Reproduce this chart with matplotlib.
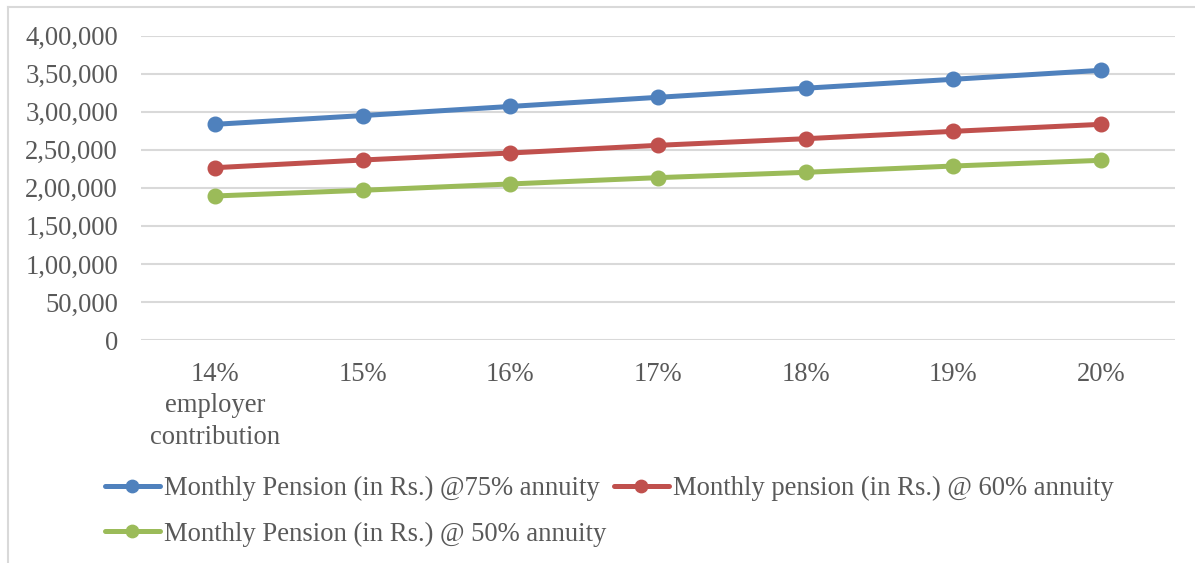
import matplotlib
matplotlib.use("Agg")
import matplotlib.pyplot as plt
from matplotlib.lines import Line2D

# data
categories = ["14%\nemployer\ncontribution", "15%", "16%", "17%", "18%", "19%", "20%"]
pension_75 = [283500, 295000, 307000, 319000, 331000, 342700, 354500]
pension_60 = [226500, 236600, 245800, 255900, 264600, 274300, 283500]
pension_50 = [189300, 196800, 205100, 213400, 220400, 228700, 236200]
series_names = ["Monthly Pension (in Rs.) @75% annuity",
                "Monthly pension (in Rs.) @ 60% annuity",
                "Monthly Pension (in Rs.) @ 50% annuity"]
y_ticks = [0, 50000, 100000, 150000, 200000, 250000, 300000, 350000, 400000]
y_tick_labels = ["0", "50,000", "1,00,000", "1,50,000", "2,00,000",
                 "2,50,000", "3,00,000", "3,50,000", "4,00,000"]

colors = ["#4F81BD", "#C0504D", "#9BBB59"]
text_color = "#595959"
grid_color = "#D9D9D9"
fs = 19.2

plt.rcParams['font.family'] = ['Liberation Serif', 'DejaVu Serif']

W, H = 1195, 563
fig = plt.figure(figsize=(W / 100, H / 100), dpi=100)
ax = fig.add_axes([141 / W, (H - 340) / H, (1175 - 141) / W, (340 - 35.7) / H])

x = list(range(len(categories)))
handles = []
for vals, name, c in zip([pension_75, pension_60, pension_50], series_names, colors):
    h, = ax.plot(x, vals, color=c, lw=3.6, marker="o", markersize=10.5,
                 solid_capstyle="round", label=name, zorder=3)
    handles.append(h)

ax.set_xlim(-0.5, len(categories) - 0.5)
ax.set_ylim(0, 400000)
ax.set_yticks(y_ticks)
ax.set_yticklabels(y_tick_labels)
ax.set_xticks(x)
ax.set_xticklabels(categories, linespacing=1.33)
ax.tick_params(axis="both", length=0, labelsize=fs, colors=text_color)
ax.tick_params(axis="y", pad=16.5)
ax.tick_params(axis="x", pad=16)
for lab in ax.get_xticklabels():
    lab.set_verticalalignment("top")
ax.grid(axis="y", color=grid_color, lw=1.5, zorder=0)
for s in ax.spines.values():
    s.set_visible(False)

# legend: blue and green in first column, red in second
leg = fig.legend(handles=[handles[0], handles[2], handles[1]], ncol=2, loc="upper left",
                 bbox_to_anchor=(105 / W, (H - 476) / H), frameon=False,
                 fontsize=fs, handlelength=2.05, handletextpad=0.15,
                 columnspacing=0.3, labelspacing=0.76, borderaxespad=0,
                 borderpad=0, labelcolor=text_color, markerscale=0.85)

# outer chart border (top and left visible)
fig.add_artist(Line2D([7.5 / W, 1.0], [1 - 7 / H, 1 - 7 / H], color=grid_color, lw=1.5))
fig.add_artist(Line2D([7.5 / W, 7.5 / W], [0, 1 - 7 / H], color=grid_color, lw=1.5))

fig.savefig("out.png", dpi=100)
